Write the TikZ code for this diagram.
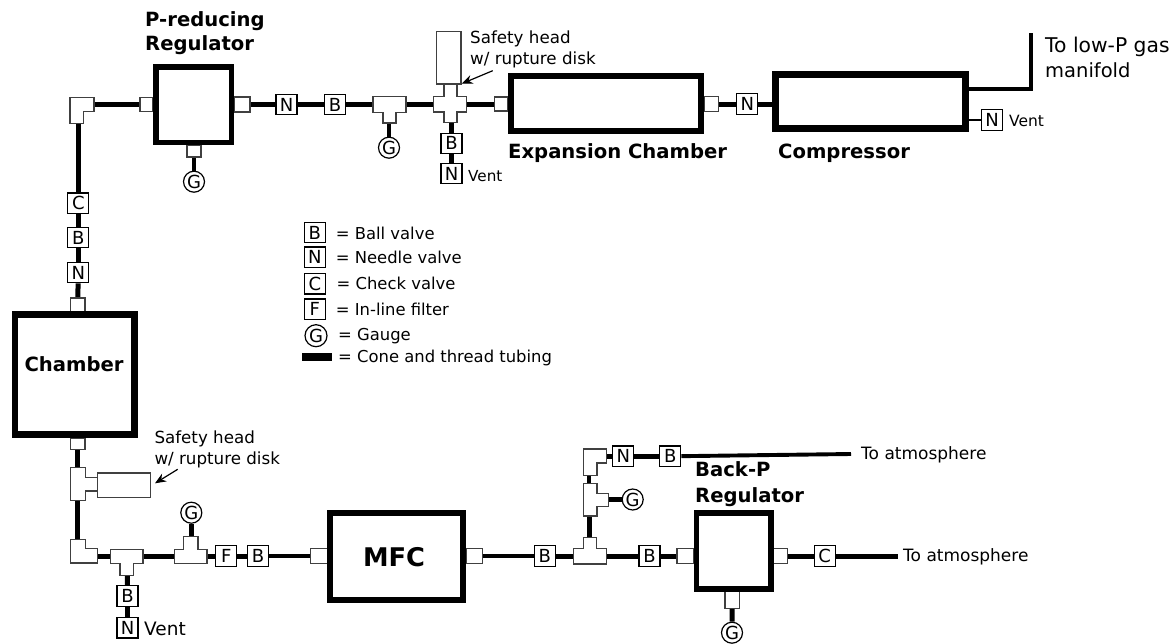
\documentclass[tikz,border=0pt]{standalone}
\usepackage{fontspec}
\setmainfont{DejaVu Sans}
\usetikzlibrary{arrows.meta,backgrounds}
\newcommand{\fsz}[1]{\fontsize{#1}{#1}\selectfont}
\tikzset{
  x=1pt,y=-1pt,
  valve/.style={draw=black,fill=white,minimum width=21pt,minimum height=20.5pt,inner sep=0pt,line width=1.2pt,font=\fsz{18}},
  gauge/.style={draw=black,fill=white,circle,minimum size=21pt,inner sep=0pt,line width=1.2pt,font=\fsz{18}},
  adapter/.style={draw=black!75,fill=white,rectangle,inner sep=0pt,line width=1.2pt},
  vessel/.style={draw=black,fill=white,rectangle,inner sep=0pt},
  fitting/.style={draw=black!75,fill=white,line width=1.2pt,line join=miter},
  tube/.style={draw=black,line width=5pt},
  thintube/.style={draw=black,line width=3.9pt},
  ventline/.style={draw=black,line width=2pt},
  lbl/.style={anchor=base west,inner sep=0pt,font=\fsz{16.4}},
  slbl/.style={anchor=base west,inner sep=0pt,font=\fsz{16.7}},
  blbl/.style={anchor=base west,inner sep=0pt,font=\bfseries\fsz{19.6}},
  pointer/.style={draw=black,line width=1.2pt,-{Stealth[length=11pt,width=9pt]}},
}
\begin{document}
\begin{tikzpicture}
\useasboundingbox (0,0) rectangle (1175,643);
% ---------- adapters
\node[adapter,minimum width=13pt,minimum height=14.5pt] (a1) at (146.5,104.5) {};
\node[adapter,minimum width=16pt,minimum height=15pt] (a2) at (242,104.5) {};
\node[adapter,minimum width=14pt,minimum height=12pt] (a3) at (194,151) {};
\node[adapter,minimum width=13.5pt,minimum height=14pt] (a4) at (501.3,104) {};
\node[adapter,minimum width=14.7pt,minimum height=14.3pt] (a5) at (711.3,104) {};
\node[adapter,minimum width=14.7pt,minimum height=13.7pt] (a6) at (77.7,304.8) {};
\node[adapter,minimum width=14.7pt,minimum height=11.5pt] (a7) at (77.7,443.7) {};
\node[adapter,minimum width=16.6pt,minimum height=14.6pt] (a8) at (319,556) {};
\node[adapter,minimum width=16.7pt,minimum height=14.6pt] (a9) at (474.3,556) {};
\node[adapter,minimum width=16.6pt,minimum height=14.6pt] (a10) at (685.3,556) {};
\node[adapter,minimum width=13.6pt,minimum height=15pt] (a11) at (780.5,556) {};
\node[adapter,minimum width=14.3pt,minimum height=16.6pt] (a12) at (732.2,600) {};
% ---------- vessels
\node[vessel,line width=5.5pt,minimum width=75.5pt,minimum height=75.5pt] (preg) at (193.5,104.5) {};
\node[vessel,line width=6.5pt,minimum width=189.8pt,minimum height=54.8pt] (exp) at (605.85,103.35) {};
\node[vessel,line width=7pt,minimum width=189.4pt,minimum height=54.3pt] (comp) at (870.5,101.65) {};
\node[vessel,line width=6.7pt,minimum width=119.3pt,minimum height=120pt] (chamber) at (74.7,374.65) {};
\node[vessel,line width=5.7pt,minimum width=133.3pt,minimum height=87.3pt] (mfc) at (396.5,556.5) {};
\node[vessel,line width=5.7pt,minimum width=74.3pt,minimum height=75.7pt] (breg) at (733.7,551) {};
% ---------- fittings
\draw[fitting] (70,97.3) -- (94,97.3) -- (94,111.7) -- (83.5,111.7) -- (83.5,123.7) -- (70,123.7) -- cycle;
\coordinate (el1e) at (94,104.5); \coordinate (el1s) at (78.3,123.7);
\draw[fitting] (373,96.7) -- (406,96.7) -- (406,112.7) -- (396,112.7) -- (396,123) -- (383,123) -- (383,112.7) -- (373,112.7) -- cycle;
\coordinate (t1w) at (373,104.5); \coordinate (t1e) at (406,104.5); \coordinate (t1s) at (389,123);
\draw[fitting] (444,84.7) -- (457,84.7) -- (457,96.3) -- (466.5,96.3) -- (466.5,112) -- (457,112) -- (457,122.7) -- (444,122.7) -- (444,112) -- (433.5,112) -- (433.5,96.3) -- (444,96.3) -- cycle;
\coordinate (xw) at (433.5,104.5); \coordinate (xe) at (466.5,104); \coordinate (xs) at (451.5,122.7);
\draw[fitting] (70.3,467.7) -- (85.3,467.7) -- (85.3,477.3) -- (97.3,477.3) -- (97.3,491) -- (85.3,491) -- (85.3,500.3) -- (70.3,500.3) -- cycle;
\coordinate (t2n) at (77.7,467.7); \coordinate (t2s) at (77.7,500.3);
\draw[fitting] (70.3,539.3) -- (85.3,539.3) -- (85.3,548.7) -- (97.7,548.7) -- (97.7,563) -- (70.3,563) -- cycle;
\coordinate (el2n) at (77.7,539.3); \coordinate (el2e) at (97.7,556);
\draw[fitting] (110.3,549.3) -- (143,549.3) -- (143,563.3) -- (133.3,563.3) -- (133.3,575.7) -- (120,575.7) -- (120,563.3) -- (110.3,563.3) -- cycle;
\coordinate (t3w) at (110.3,556); \coordinate (t3e) at (143,556); \coordinate (t3s) at (127.3,575.7);
\draw[fitting] (183.7,536.7) -- (198,536.7) -- (198,549.3) -- (207,549.3) -- (207,563.3) -- (174.3,563.3) -- (174.3,549.3) -- (183.7,549.3) -- cycle;
\coordinate (t4w) at (174.3,556); \coordinate (t4e) at (207,556); \coordinate (t4n) at (191.3,536.7);
\draw[fitting] (583.3,537.7) -- (596.7,537.7) -- (596.7,548.7) -- (606.3,548.7) -- (606.3,564) -- (573.7,564) -- (573.7,548.7) -- (583.3,548.7) -- cycle;
\coordinate (t5w) at (573.7,556); \coordinate (t5e) at (606.3,556); \coordinate (t5n) at (589.3,537.7);
\draw[fitting] (583.3,483.3) -- (597,483.3) -- (597,493.7) -- (608.7,493.7) -- (608.7,506.7) -- (597,506.7) -- (597,516) -- (583.3,516) -- cycle;
\coordinate (t6n) at (589.3,483.3); \coordinate (t6s) at (589.3,516); \coordinate (t6e) at (608.7,499.5);
\draw[fitting] (583.3,449) -- (606.7,449) -- (606.7,463) -- (597,463) -- (597,475.3) -- (583.3,475.3) -- cycle;
\coordinate (el3s) at (589.3,475.3); \coordinate (el3e) at (606.7,456.3);
% ---------- safety heads
\node[adapter,minimum width=24.3pt,minimum height=52.3pt] (sh1) at (448.85,57.85) {};
\node[adapter,minimum width=53pt,minimum height=24.7pt] (sh2) at (123.8,485.35) {};
% ---------- valves
\node[valve] (n1) at (286.5,104.5) {N};
\node[valve] (b1) at (335,104.5) {B};
\node[gauge] (g1) at (389,147.7) {G};
\node[gauge] (g2) at (194,181.7) {G};
\node[valve] (b2) at (451.5,143.4) {B};
\node[valve] (n2) at (451.5,173.5) {N};
\node[valve] (n3) at (747.3,104) {N};
\node[valve] (n4) at (992,120) {N};
\node[valve] (c1) at (78.3,203.3) {C};
\node[valve] (b3) at (78.3,237.6) {B};
\node[valve] (n5) at (78.3,272.5) {N};
\node[valve] (b4) at (127.5,596) {B};
\node[valve] (n6) at (127.5,627.7) {N};
\node[gauge] (g3) at (191.3,512.7) {G};
\node[valve] (f1) at (226.3,556) {F};
\node[valve] (b5) at (258,556) {B};
\node[valve] (b6) at (544.7,556) {B};
\node[valve] (b7) at (649.5,556) {B};
\node[gauge] (g4) at (632.7,499.5) {G};
\node[valve] (n7) at (623.3,456.3) {N};
\node[valve] (b8) at (670.2,456.3) {B};
\node[valve] (c2) at (824.6,556) {C};
\node[gauge] (g5) at (732,632.7) {G};
% ---------- legend
\node[valve] (lb) at (314.8,232.5) {B};
\node[valve] (ln) at (314.8,257.3) {N};
\node[valve] (lc) at (314.8,283.8) {C};
\node[valve] (lf) at (314.8,309.2) {F};
\node[gauge,minimum size=22pt] (lg) at (316,335.7) {G};
\node[rectangle,fill=black,inner sep=0pt,minimum width=29.7pt,minimum height=8.4pt] (lt) at (316.8,356.8) {};
\node[lbl] (tb) at (335.7,239.5) {= Ball valve};
\node[lbl] (tn) at (335.7,263.5) {= Needle valve};
\node[lbl] (tc) at (336.5,289.5) {= Check valve};
\node[lbl] (tf) at (335.7,315) {= In-line filter};
\node[lbl] (tg) at (338,340.5) {= Gauge};
\node[lbl] (tt) at (338,362.5) {= Cone and thread tubing};
% ---------- labels
\node[blbl] (lab1) at (145,26) {P-reducing};
\node[blbl] (lab2) at (145,50.7) {Regulator};
\node[blbl] (lab3) at (508,158.3) {Expansion Chamber};
\node[blbl] (lab4) at (778,158.3) {Compressor};
\node[blbl] (lab5) at (695,476.7) {Back-P};
\node[blbl] (lab6) at (695,502) {Regulator};
\node[inner sep=0pt,font=\bfseries\fsz{19.6}] (lab7) at (74,364) {Chamber};
\node[inner sep=0pt,font=\bfseries\fsz{25.7}] (lab8) at (394,557) {MFC};
\node[slbl] (s1) at (470,43.3) {Safety head};
\node[slbl] (s2) at (470,64) {w/ rupture disk};
\node[slbl] (s3) at (154.3,443) {Safety head};
\node[slbl] (s4) at (154.3,464) {w/ rupture disk};
\node[lbl,font=\fsz{15.2}] (v1) at (468,181) {Vent};
\node[lbl,font=\fsz{15.5}] (v2) at (1009,126) {Vent};
\node[lbl,font=\fsz{18.5}] (v3) at (144,635) {Vent};
\node[lbl,font=\fsz{17}] (at1) at (861,459) {To atmosphere};
\node[lbl,font=\fsz{17}] (at2) at (903,561) {To atmosphere};
\node[lbl,font=\fsz{20.3}] (lp1) at (1045,52.3) {To low-P gas};
\node[lbl,font=\fsz{19.5}] (lp2) at (1045,77.3) {manifold};
% ---------- arrows to the safety heads
\coordinate (p1a) at (492.7,70.7); \coordinate (p1b) at (461.7,83.7);
\coordinate (p2a) at (177.7,469.3); \coordinate (p2b) at (155,483.3);
\draw[pointer] (p1a) -- (p1b);
\draw[pointer] (p2a) -- (p2b);
% ---------- free ends
\coordinate (lowp) at (1031,32.7);
\coordinate (compout) at (968,88.7);
\coordinate (atm1) at (851,454);
\coordinate (atm2) at (898,556);
% ---------- tubing
\begin{pgfonlayer}{background}
\fill[white] (0,0) rectangle (1175,643);
\draw[tube] (el1e) -- (a1);
\draw[tube] (a2) -- (n1);
\draw[tube] (n1) -- (b1);
\draw[tube] (b1) -- (t1w);
\draw[tube] (t1e) -- (xw);
\draw[tube] (xe) -- (a4);
\draw[thintube] (t1s) -- (g1);
\draw[thintube] (a3) -- (g2);
\draw[tube] (xs) -- (b2);
\draw[tube] (b2) -- (n2);
\draw[tube] (a5) -- (n3);
\draw[tube] (n3) -- (n3 -| comp.west);
\draw[thintube,line join=miter] (compout) -| (lowp);
\draw[ventline] (n4) -- (n4 -| comp.east);
\draw[tube] (el1s) -- (c1);
\draw[tube] (c1) -- (b3);
\draw[tube] (b3) -- (n5);
\draw[tube] (n5) -- (a6);
\draw[tube] (a7) -- (t2n);
\draw[tube] (t2s) -- (el2n);
\draw[tube] (el2e) -- (t3w);
\draw[tube] (t3e) -- (t4w);
\draw[tube] (t3s) -- (b4);
\draw[tube] (b4) -- (n6);
\draw[tube] (t4n) -- (g3);
\draw[tube] (t4e) -- (f1);
\draw[tube] (f1) -- (b5);
\draw[thintube] (b5) -- (a8);
\draw[thintube] (a9) -- (b6);
\draw[tube] (b6) -- (t5w);
\draw[tube] (t5e) -- (b7);
\draw[tube] (b7) -- (a10);
\draw[tube] (t5n) -- (t6s);
\draw[thintube] (t6n) -- (el3s);
\draw[tube] (t6e) -- (g4);
\draw[tube] (el3e) -- (n7);
\draw[tube] (n7) -- (b8);
\draw[thintube] (b8) -- (atm1);
\draw[tube] (a11) -- (c2);
\draw[tube] (c2) -- (atm2);
\draw[tube] (a12) -- (g5);
\end{pgfonlayer}
\end{tikzpicture}
\end{document}
